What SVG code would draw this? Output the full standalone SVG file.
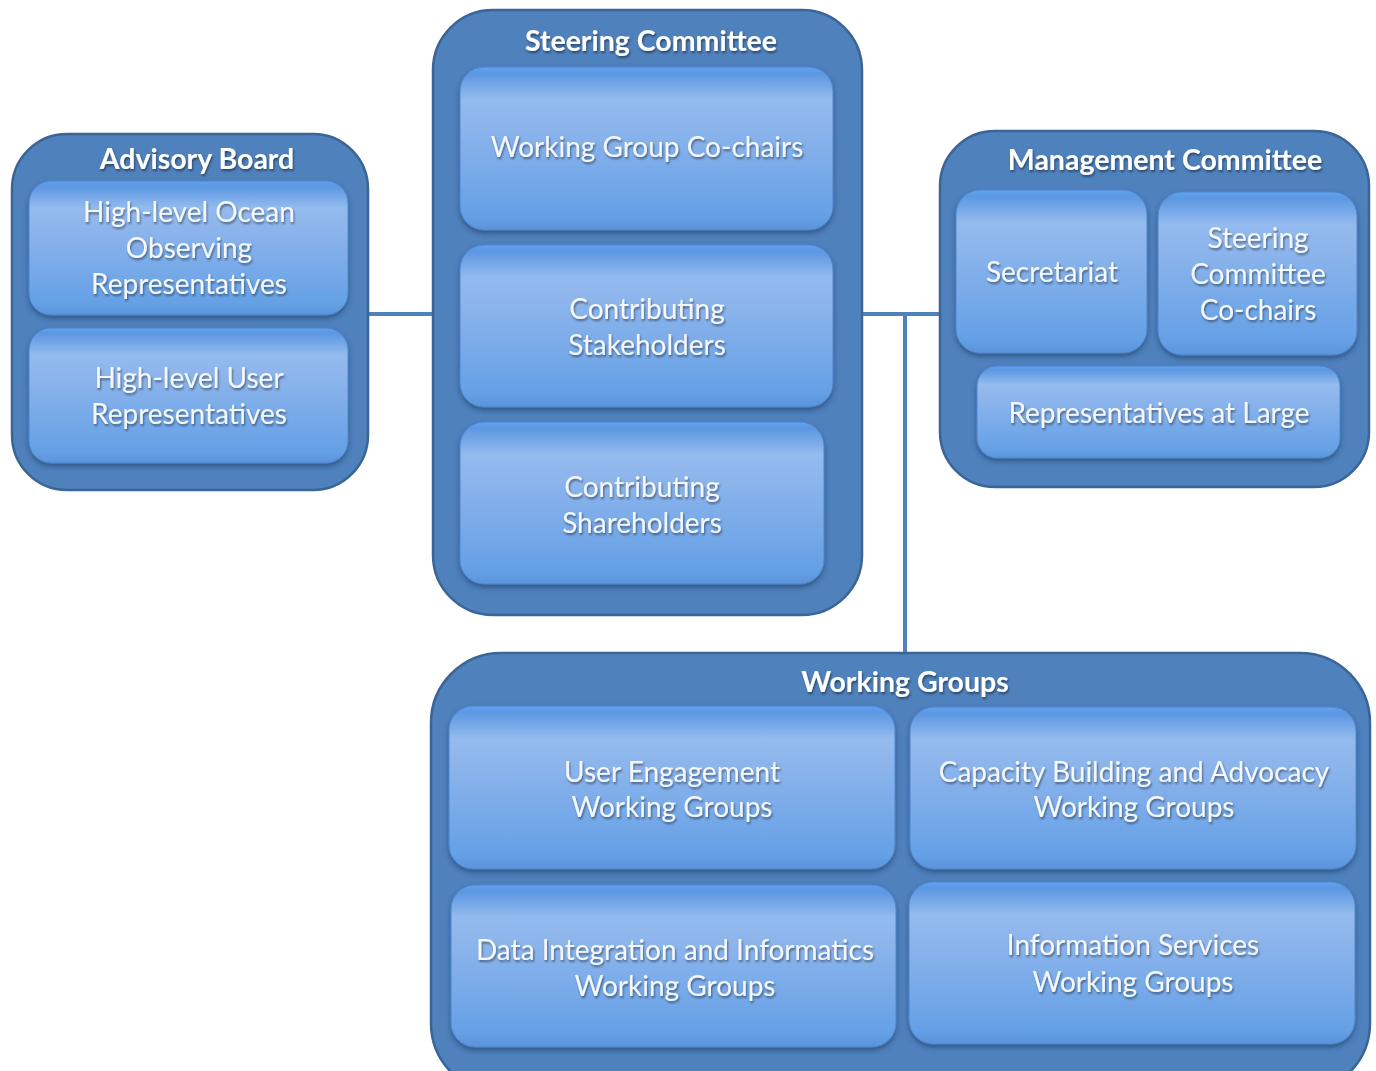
<svg xmlns="http://www.w3.org/2000/svg" width="1376" height="1071" viewBox="0 0 1376 1071">
<defs>
<linearGradient id="g" x1="0" y1="0" x2="0" y2="1">
<stop offset="0" stop-color="#5FA2F2"/>
<stop offset="0.04" stop-color="#5C97E2"/>
<stop offset="0.2" stop-color="#93BBEE"/>
<stop offset="0.35" stop-color="#8DB5EC"/>
<stop offset="0.92" stop-color="#64A0E6"/>
<stop offset="1" stop-color="#5A93DA"/>
</linearGradient>
<filter id="sh" x="-5%" y="-5%" width="110%" height="120%">
<feDropShadow dx="0" dy="3" stdDeviation="2.5" flood-color="#1F3B63" flood-opacity="0.6"/>
</filter>
<filter id="ts" x="-5%" y="-20%" width="110%" height="150%">
<feDropShadow dx="1" dy="2" stdDeviation="1" flood-color="#000" flood-opacity="0.45"/>
</filter>
</defs>
<style>
.outer{fill:#4F81BD;stroke:#3A6596;stroke-width:2.5}
.inner{fill:url(#g);stroke:#4E86CC;stroke-width:1;filter:url(#sh)}
.title{font-family:Lato,"Open Sans",sans-serif;font-weight:bold;font-size:28.5px;fill:#FFFFFF;text-anchor:middle;filter:url(#ts)}
.lbl{font-family:Lato,"Open Sans",sans-serif;font-size:28px;fill:#F4F7FC;text-anchor:middle;filter:url(#ts)}
.conn{stroke:#4F81BD;stroke-width:4;fill:none}
</style>
<g id="connectors">
<line class="conn" x1="366" y1="314" x2="434" y2="314"/>
<line class="conn" x1="860" y1="314" x2="942" y2="314"/>
<line class="conn" x1="905" y1="314" x2="905" y2="655"/>
</g>
<g id="advisory-board">
<rect class="outer" x="12" y="134" width="356" height="356" rx="55"/>
<text class="title" x="197" y="169">Advisory Board</text>
<g id="ab-ocean">
<rect class="inner" x="29" y="181" width="319" height="134" rx="22"/>
<text class="lbl" x="189" y="222">High-level Ocean</text>
<text class="lbl" x="189" y="258">Observing</text>
<text class="lbl" x="189" y="294">Representatives</text>
</g>
<g id="ab-user">
<rect class="inner" x="29" y="328" width="319" height="135" rx="22"/>
<text class="lbl" x="189" y="388">High-level User</text>
<text class="lbl" x="189" y="424">Representatives</text>
</g>
</g>
<g id="steering-committee">
<rect class="outer" x="433" y="10" width="429" height="605" rx="60"/>
<text class="title" x="651" y="51">Steering Committee</text>
<g id="sc-cochairs">
<rect class="inner" x="460" y="67" width="373" height="163" rx="24"/>
<text class="lbl" x="647" y="157">Working Group Co-chairs</text>
</g>
<g id="sc-stakeholders">
<rect class="inner" x="460" y="245" width="373" height="162" rx="24"/>
<text class="lbl" x="647" y="319">Contributing</text>
<text class="lbl" x="647" y="355">Stakeholders</text>
</g>
<g id="sc-shareholders">
<rect class="inner" x="460" y="422" width="364" height="162" rx="24"/>
<text class="lbl" x="642" y="497">Contributing</text>
<text class="lbl" x="642" y="533">Shareholders</text>
</g>
</g>
<g id="management-committee">
<rect class="outer" x="940" y="131" width="429" height="356" rx="55"/>
<text class="title" x="1165" y="170">Management Committee</text>
<g id="mc-secretariat">
<rect class="inner" x="956" y="190" width="191" height="163" rx="24"/>
<text class="lbl" x="1052" y="282">Secretariat</text>
</g>
<g id="mc-sc-cochairs">
<rect class="inner" x="1158" y="192" width="199" height="163" rx="24"/>
<text class="lbl" x="1258" y="248">Steering</text>
<text class="lbl" x="1258" y="284">Committee</text>
<text class="lbl" x="1258" y="320">Co-chairs</text>
</g>
<g id="mc-reps">
<rect class="inner" x="977" y="366" width="363" height="92" rx="20"/>
<text class="lbl" x="1159" y="423">Representatives at Large</text>
</g>
</g>
<g id="working-groups">
<rect class="outer" x="431" y="653" width="939" height="440" rx="70"/>
<text class="title" x="905" y="692">Working Groups</text>
<g id="wg-user">
<rect class="inner" x="449" y="706" width="446" height="163" rx="24"/>
<text class="lbl" x="672" y="782">User Engagement</text>
<text class="lbl" x="672" y="817">Working Groups</text>
</g>
<g id="wg-capacity">
<rect class="inner" x="910" y="707" width="446" height="162" rx="24"/>
<text class="lbl" x="1134" y="782">Capacity Building and Advocacy</text>
<text class="lbl" x="1134" y="817">Working Groups</text>
</g>
<g id="wg-data">
<rect class="inner" x="451" y="885" width="445" height="162" rx="24"/>
<text class="lbl" x="675" y="960">Data Integration and Informatics</text>
<text class="lbl" x="675" y="996">Working Groups</text>
</g>
<g id="wg-info">
<rect class="inner" x="909" y="882" width="446" height="162" rx="24"/>
<text class="lbl" x="1133" y="955">Information Services</text>
<text class="lbl" x="1133" y="992">Working Groups</text>
</g>
</g>
</svg>
